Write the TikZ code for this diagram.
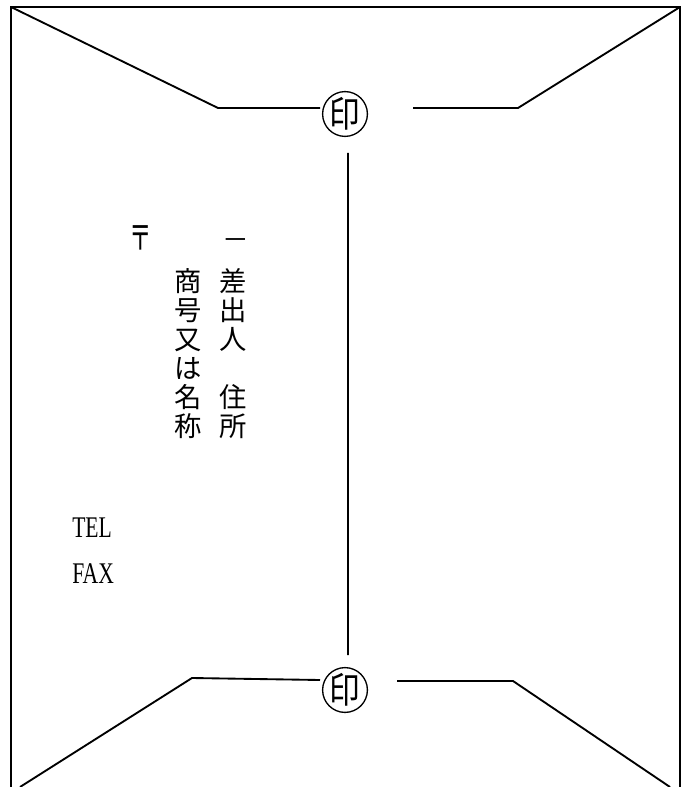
\documentclass[tikz,border=0pt]{standalone}
\usepackage{fontspec}
\usepackage{tikz}
\usetikzlibrary{positioning}
\newfontfamily\jpfont{Noto Sans CJK JP}
\newfontfamily\telfont[FakeStretch=0.72]{Liberation Serif}

\tikzset{
  envline/.style={line width=1.4pt},
  seal/.style={circle, draw, line width=1pt, minimum size=33pt, inner sep=0pt,
    font=\jpfont\fontsize{27}{27}\selectfont},
  vcol/.style={align=center, inner sep=0pt, font=\jpfont\fontsize{20.5}{21.8}\selectfont},
  telbox/.style={anchor=west, inner sep=0pt, font=\telfont\fontsize{22.5}{24}\selectfont}
}

\begin{document}
\begin{tikzpicture}[x=0.75pt, y=-0.75pt]
  \useasboundingbox (0,0) rectangle (682,787);

  % frame and flaps
  \coordinate (tl) at (11,7);
  \coordinate (tr) at (680,7);
  \coordinate (bl) at (11,787);
  \coordinate (br) at (680,787);
  \coordinate (tla) at (218,108);
  \coordinate (tlb) at (320,108);
  \coordinate (tra) at (413,108);
  \coordinate (trb) at (518,108);
  \coordinate (bla) at (192,678);
  \coordinate (blb) at (320,680);
  \coordinate (bra) at (397,681);
  \coordinate (brb) at (513,681);
  \coordinate (blf) at (20,787);
  \coordinate (brf) at (670,787);
  \coordinate (vtop) at (348,153);
  \coordinate (vbot) at (348,655);

  \node[seal] (topseal) at (345,114) {\raisebox{0.5pt}{\scalebox{0.85}[1]{印}}};
  \node[seal] (botseal) at (345,690) {\raisebox{0.5pt}{\scalebox{0.85}[1]{印}}};

  \draw[line width=1pt] (bl) -- (tl) -- (tr) -- (br);
  \draw[envline]
    (tl) -- (tla) -- (tlb)
    (tra) -- (trb) -- (tr)
    (blf) -- (bla) -- (blb)
    (bra) -- (brb) -- (brf)
    (vtop) -- (vbot);

  % sender block
  \node[font=\jpfont\fontsize{26}{26}\selectfont, inner sep=0pt] (zip) at (141,238) {\scalebox{0.65}[1]{〒}};
  \node[font=\jpfont\fontsize{20}{20}\selectfont, inner sep=0pt] (dash) at (236,244) {－};
  \node[vcol, anchor=north] (sender) at (233,268) {差\\出\\人\\　\\住\\所};
  \node[vcol, anchor=north] (company) at (188,268) {商\\号\\又\\は\\名\\称};

  \node[telbox] (tel) at (72,528) {TEL};
  \node[telbox] (fax) at (72,574) {FAX};
\end{tikzpicture}
\end{document}
